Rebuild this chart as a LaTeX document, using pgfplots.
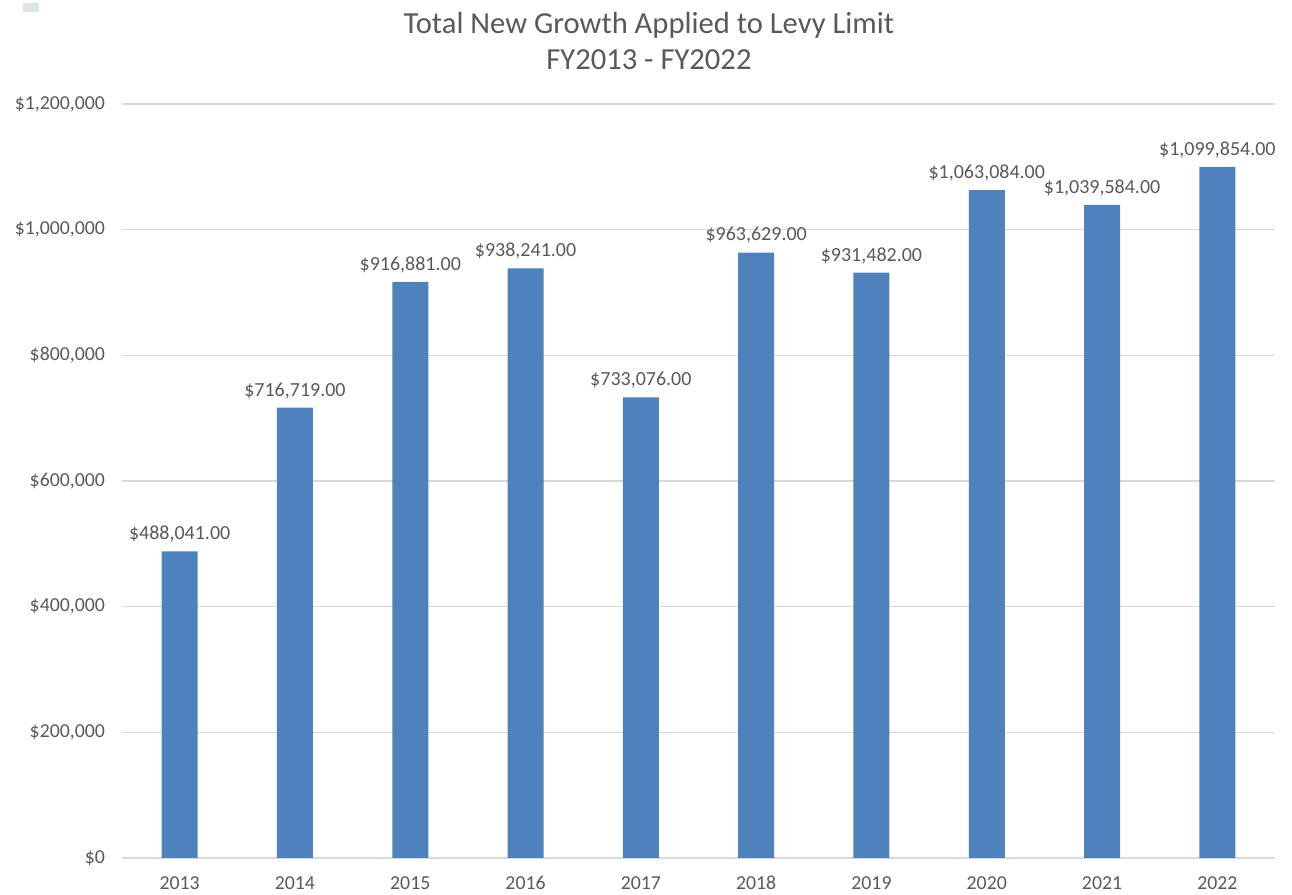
\documentclass[border=0pt]{standalone}
\usepackage{fontspec}
\setmainfont{Carlito}
\usepackage{pgfplots}
\pgfplotsset{compat=1.18}

\definecolor{barblue}{HTML}{4F81BD}
\definecolor{txtgray}{HTML}{595959}
\definecolor{gridgray}{HTML}{D9D9D9}
\definecolor{markgray}{HTML}{DCE6E2}

\begin{document}
\begin{tikzpicture}
% page frame (1px = 0.5pt)
\useasboundingbox (-61pt,-18.5pt) rectangle (585pt,429pt);
\fill[markgray] (-49.5pt,423pt) rectangle (-41.5pt,427.5pt);
\begin{axis}[
    at={(0,0)}, anchor=south west,
    scale only axis,
    width=576.5pt, height=377pt,
    ybar, bar width=18pt,
    xmin=-0.5, xmax=9.5,
    ymin=0, ymax=1200000,
    xtick=data,
    xticklabels={2013,2014,2015,2016,2017,2018,2019,2020,2021,2022},
    ytick={0,200000,400000,600000,800000,1000000,1200000},
    yticklabels={{\$0},{\$200,000},{\$400,000},{\$600,000},{\$800,000},{\$1,000,000},{\$1,200,000}},
    scaled y ticks=false,
    axis line style={draw=none},
    tick style={draw=none},
    ymajorgrids=true,
    grid style={gridgray, line width=0.6pt},
    ticklabel style={font=\fontsize{9.9}{12}\selectfont, text=txtgray},
    xticklabel style={anchor=north, text height=7pt, text depth=0pt, yshift=-1pt},
    yticklabel style={xshift=-5pt},
    nodes near coords={\$\pgfmathprintnumber[fixed, fixed zerofill, precision=2, 1000 sep={,}, assume math mode=true]{\pgfplotspointmeta}},
    every node near coord/.append style={font=\fontsize{10}{12}\selectfont, text=txtgray, yshift=1pt},
    point meta=explicit,
    title={Total New Growth Applied to Levy Limit\\FY2013 - FY2022},
    title style={at={(0.457,1)}, anchor=south, yshift=7.5pt, align=center,
        font=\fontsize{15.3}{18}\selectfont, text=txtgray},
    clip=false,
]
\addplot[fill=barblue, draw=none] table[x=x, y=y, meta=y] {
x y
0 488041
1 716719
2 916881
3 938241
4 733076
5 963629
6 931482
7 1063084
8 1039584
9 1099854
};
\end{axis}
\end{tikzpicture}
\end{document}
